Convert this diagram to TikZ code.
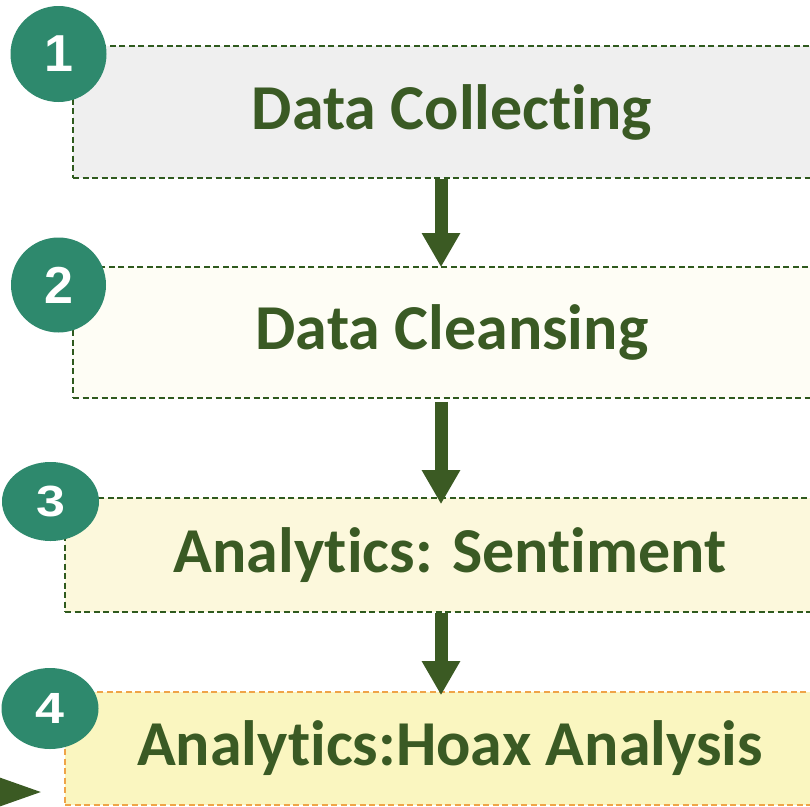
\documentclass[tikz,border=0pt]{standalone}
\usepackage{fontspec}
\setmainfont{Carlito}[Ligatures=NoCommon]
\newfontfamily\numfont{Liberation Sans}
\usepackage{tikz}
\usetikzlibrary{arrows.meta,shapes.geometric}
\usepackage{xcolor}

\definecolor{stagetext}{HTML}{3A5A24}
\definecolor{stageedge}{HTML}{2F5A1E}
\definecolor{hoaxedge}{HTML}{EFA448}
\definecolor{flowgreen}{HTML}{3B5A23}
\definecolor{badgeteal}{HTML}{2E896D}
\definecolor{fillcollect}{HTML}{EFEFEF}
\definecolor{fillcleanse}{HTML}{FEFDF5}
\definecolor{fillsentiment}{HTML}{FCF8DC}
\definecolor{fillhoax}{HTML}{FAF6C0}

\tikzset{
  stage/.style={draw=stageedge, line width=1.6pt, dash pattern=on 6pt off 3.5pt,
    inner sep=0pt, text=stagetext, font=\bfseries\fontsize{64}{70}\selectfont},
  badge/.style={fill=badgeteal, inner sep=0pt, text=white,
    font=\numfont\bfseries\fontsize{52}{56}\selectfont},
  flow/.style={draw=flowgreen, line width=13pt, -{Triangle[length=34pt,width=36pt]}}
}

\begin{document}
\begin{tikzpicture}[x=1pt,y=-1pt]
\useasboundingbox (0,0) rectangle (810,806);
\clip (0,0) rectangle (810,806);

\node[stage, fill=fillcollect, minimum width=758pt, minimum height=132pt] (collect) at (452,112) {Data Collecting};
\node[stage, fill=fillcleanse, minimum width=758pt, minimum height=131pt] (cleanse) at (452,332.5) {Data Cleansing};
\node[stage, fill=fillsentiment, minimum width=770pt, minimum height=114pt] (sentiment) at (450,555) {Analytics: Sentiment};
\node[stage, draw=hoaxedge, fill=fillhoax, minimum width=770pt, minimum height=113pt] (hoax) at (450,748.5) {Analytics:Hoax Analysis};

\draw[flow] ([xshift=-11pt]collect.south) -- ([xshift=-11pt,yshift=-1pt]cleanse.north);
\draw[flow] ([xshift=-11pt,yshift=-3pt]cleanse.south) -- ([xshift=-9pt,yshift=-7pt]sentiment.north);
\draw[flow] ([xshift=-9pt]sentiment.south) -- ([xshift=-9pt,yshift=-4pt]hoax.north);

\coordinate (feed) at (-70,792);
\draw[flow, -{Triangle[length=55pt,width=31pt]}, shorten >=19pt] (feed) -- (hoax.west |- feed);

\node[badge, circle, minimum size=96pt] (b1) at (58.5,54) {1};
\node[badge, circle, minimum size=95pt] (b2) at (58.5,285) {2};
\node[badge, ellipse, minimum width=97pt, minimum height=79pt] (b3) at (50.5,501.5) {\scalebox{1}[0.84]{3}};
\node[badge, ellipse, minimum width=97pt, minimum height=81pt] (b4) at (50,708.5) {\scalebox{1}[0.84]{4}};
\end{tikzpicture}
\end{document}
